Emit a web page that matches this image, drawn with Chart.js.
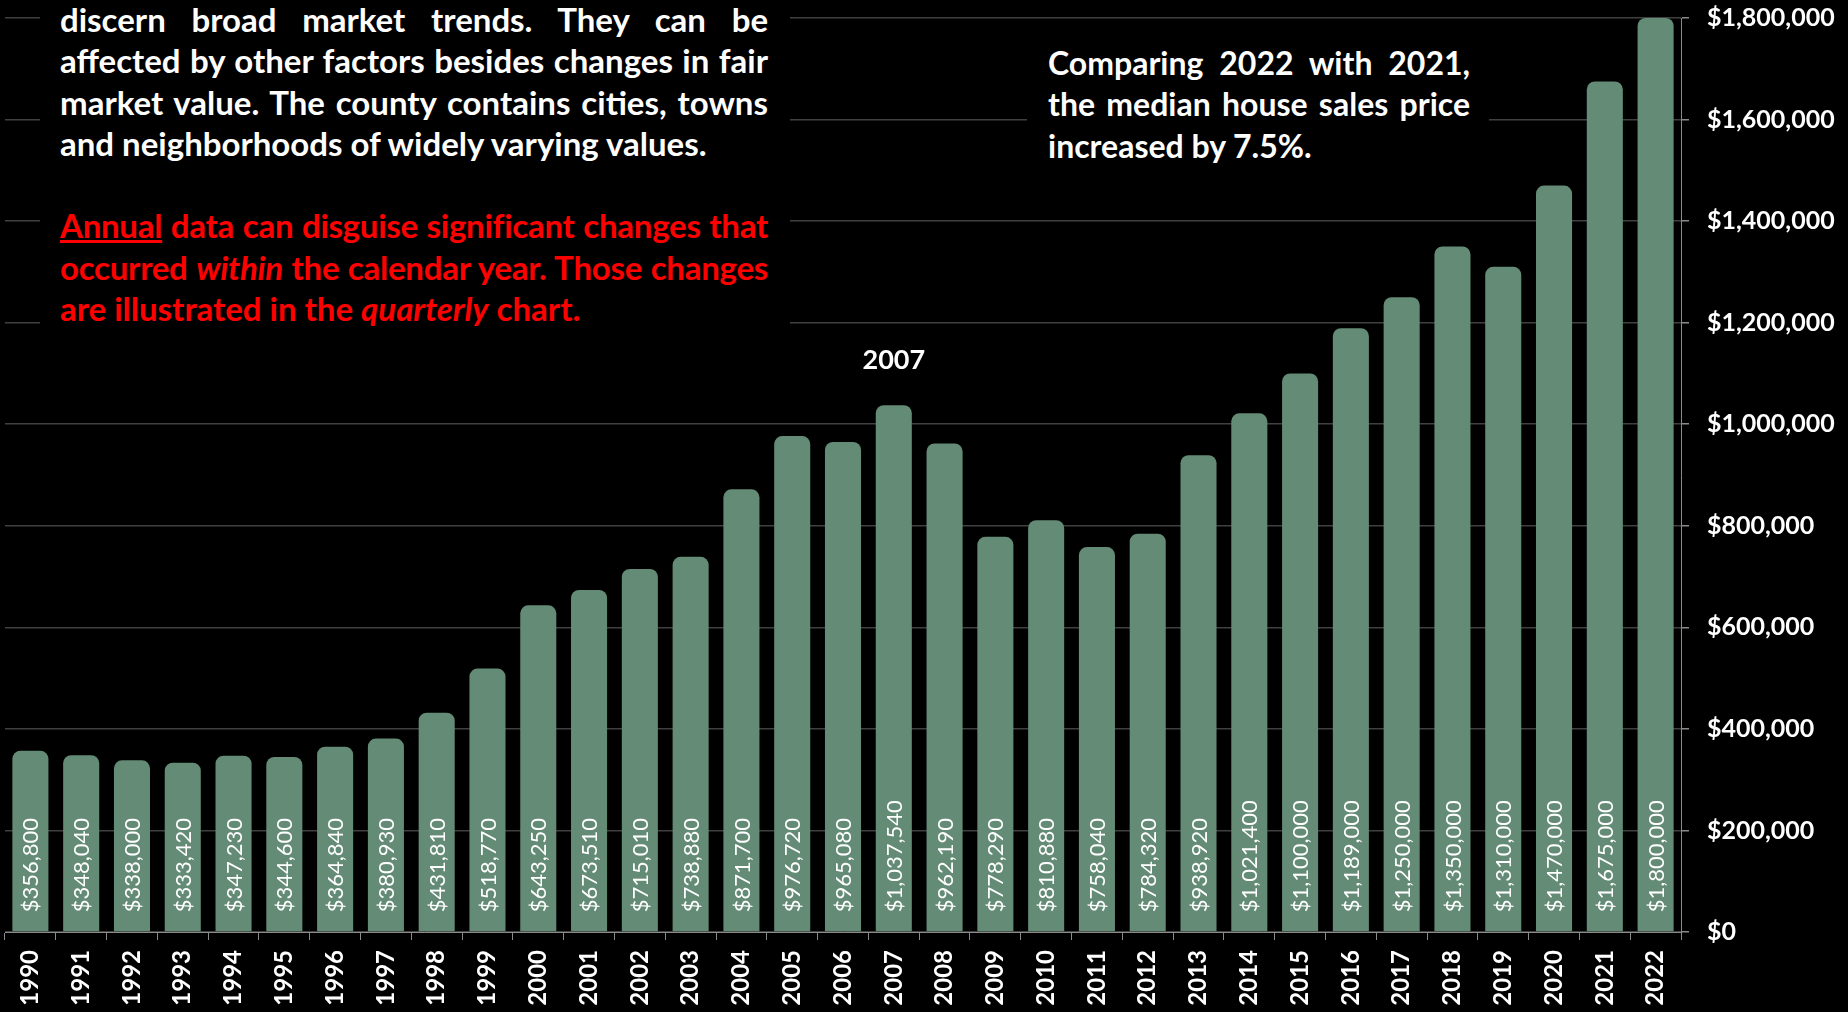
<!DOCTYPE html>
<html>
<head>
<meta charset="utf-8">
<title>Median House Sales Price by Year</title>
<script src="https://cdn.jsdelivr.net/npm/chart.js@4/dist/chart.umd.min.js"></script>
<style>
  html, body { margin: 0; padding: 0; background: #000; }
  #wrap { position: relative; width: 1848px; height: 1012px; overflow: hidden; }
  canvas { position: absolute; left: 0; top: 0; }
  .note { position: absolute; background: #000; }
  .note .txt {
    position: absolute;
    font-family: Lato, "Open Sans", sans-serif;
    font-weight: bold;
    font-size: 33px;
    line-height: 41.3px;
    color: #fff;
    white-space: nowrap;
  }
  .note .j { text-align: justify; text-align-last: justify; }
  .note .red { color: #ff0000; }
  .note .tight { letter-spacing: -0.25px; }
  .note .blank { height: 41.3px; }
</style>
</head>
<body>
<div id="wrap">
  <canvas id="annualChart" width="1848" height="1012"></canvas>

  <div class="note" style="left:40px; top:0; width:750px; height:335px;">
    <div class="txt" style="left:20px; top:-1px; width:708px;">
      <div class="j">discern broad market trends. They can be</div>
      <div class="j">affected by other factors besides changes in fair</div>
      <div class="j">market value. The county contains cities, towns</div>
      <div>and neighborhoods of widely varying values.</div>
      <div class="blank"></div>
      <div class="j red tight"><u>Annual</u> data can disguise significant changes that</div>
      <div class="j red tight">occurred <i>within</i> the calendar year. Those changes</div>
      <div class="red">are illustrated in the <i>quarterly</i> chart.</div>
    </div>
  </div>

  <div class="note" style="left:1027px; top:30px; width:462px; height:170px;">
    <div class="txt" style="left:21px; top:12px; width:422px; font-size:32px;">
      <div class="j">Comparing 2022 with 2021,</div>
      <div class="j">the median house sales price</div>
      <div>increased by 7.5%.</div>
    </div>
  </div>
</div>

<script>
// Median house sales price, one value per calendar year
const years = ['1990', '1991', '1992', '1993', '1994', '1995', '1996', '1997', '1998', '1999',
  '2000', '2001', '2002', '2003', '2004', '2005', '2006', '2007', '2008', '2009',
  '2010', '2011', '2012', '2013', '2014', '2015', '2016', '2017', '2018', '2019',
  '2020', '2021', '2022'];

const medianPrices = [356800, 348040, 338000, 333420, 347230, 344600, 364840, 380930, 431810, 518770,
  643250, 673510, 715010, 738880, 871700, 976720, 965080, 1037540, 962190, 778290,
  810880, 758040, 784320, 938920, 1021400, 1100000, 1189000, 1250000, 1350000, 1310000,
  1470000, 1675000, 1800000];

// Right-hand axis range
const yMax = 1800000;
const yStep = 200000;

// Year that gets a callout above its bar
const peakYear = '2007';

const barColor = 'rgb(99, 139, 117)';
const gridColor = '#404040';
const axisColor = '#8a8a8a';

function money(v) {
  return '$' + Number(v).toLocaleString('en-US');
}

// Writes each bar's value vertically, starting just above the baseline
const barValueLabels = {
  id: 'barValueLabels',
  afterDatasetsDraw(chart) {
    const ctx = chart.ctx;
    const meta = chart.getDatasetMeta(0);
    ctx.save();
    ctx.fillStyle = '#ffffff';
    ctx.font = '22px Lato, "Open Sans", sans-serif';
    ctx.textAlign = 'left';
    ctx.textBaseline = 'middle';
    meta.data.forEach((bar, i) => {
      ctx.save();
      ctx.translate(bar.x, bar.base - 19);
      ctx.rotate(-Math.PI / 2);
      ctx.fillText(money(medianPrices[i]), 0, 1);
      ctx.restore();
    });
    ctx.restore();
  }
};

// Year callout above the peak bar
const peakCallout = {
  id: 'peakCallout',
  afterDatasetsDraw(chart) {
    const idx = years.indexOf(peakYear);
    const bar = chart.getDatasetMeta(0).data[idx];
    const ctx = chart.ctx;
    ctx.save();
    ctx.fillStyle = '#ffffff';
    ctx.font = 'bold 27px Lato, "Open Sans", sans-serif';
    ctx.textAlign = 'center';
    ctx.textBaseline = 'middle';
    ctx.fillText(peakYear, bar.x, bar.y - 45);
    ctx.restore();
  }
};

const ctx = document.getElementById('annualChart').getContext('2d');
const annualChart = new Chart(ctx, {
  type: 'bar',
  data: {
    labels: years,
    datasets: [{
      label: 'Median house sales price',
      data: medianPrices,
      backgroundColor: barColor,
      borderWidth: 0,
      borderRadius: 8,
      barPercentage: 0.71,
      categoryPercentage: 1.0
    }]
  },
  options: {
    responsive: false,
    animation: false,
    devicePixelRatio: 1,
    layout: { padding: { left: 5, top: 18, right: 0, bottom: 0 } },
    plugins: {
      legend: { display: false },
      tooltip: { enabled: false }
    },
    scales: {
      x: {
        grid: {
          display: true,
          drawOnChartArea: false,
          drawTicks: true,
          tickLength: 8,
          tickColor: axisColor,
          offset: true
        },
        border: { display: true, color: axisColor, width: 1 },
        ticks: {
          color: '#ffffff',
          font: { family: 'Lato, "Open Sans", sans-serif', size: 24, weight: 'bold' },
          maxRotation: 90,
          minRotation: 90,
          autoSkip: false,
          padding: 10
        },
        afterFit(scale) {
          scale.height = 80;
          scale.paddingLeft = 0;
          scale.paddingRight = 0;
        }
      },
      y: {
        position: 'right',
        min: 0,
        max: yMax,
        grid: {
          color: gridColor,
          lineWidth: 1.5,
          drawTicks: true,
          tickLength: 8,
          tickColor: axisColor
        },
        border: { display: true, color: axisColor, width: 1 },
        ticks: {
          stepSize: yStep,
          color: '#ffffff',
          font: { family: 'Lato, "Open Sans", sans-serif', size: 25, weight: 'bold' },
          padding: 18,
          callback: (v) => money(v)
        },
        afterFit(scale) {
          scale.width = 167;
          scale.paddingTop = 0;
          scale.paddingBottom = 0;
        }
      }
    }
  },
  plugins: [barValueLabels, peakCallout]
});
</script>
</body>
</html>
